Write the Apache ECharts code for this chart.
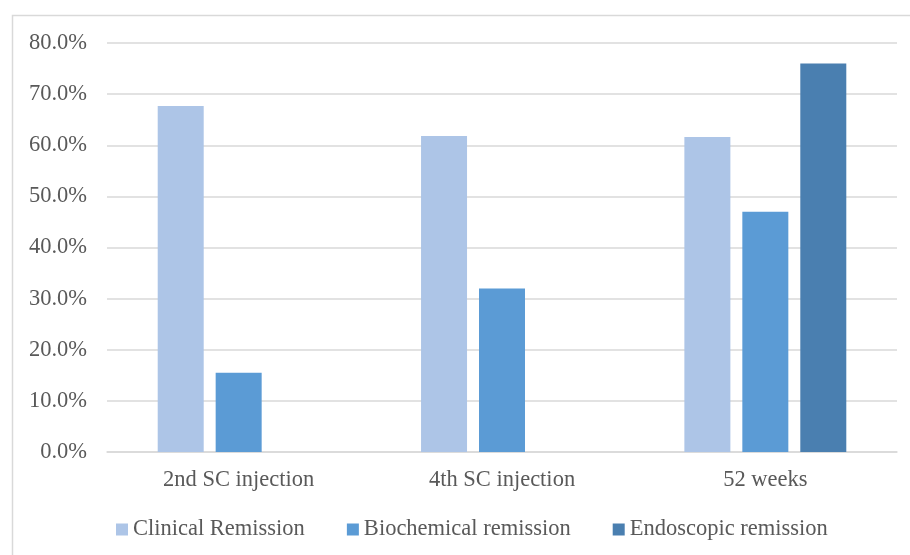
<!DOCTYPE html>
<html>
<head>
<meta charset="utf-8">
<script src="https://cdn.jsdelivr.net/npm/echarts@6/dist/echarts.min.js"></script>
<style>
  html, body { margin: 0; padding: 0; background: #fff; }
  #chart { width: 910px; height: 555px; }
</style>
</head>
<body>
<div id="chart"></div>
<script>
  // categories and values (percent)
  var categories = ['2nd SC injection', '4th SC injection', '52 weeks'];
  var clinical = [67.7, 61.8, 61.6];
  var biochemical = [15.5, 32.0, 47.0];
  var endoscopic = [null, null, 76.0];
  var seriesNames = ['Clinical Remission', 'Biochemical remission', 'Endoscopic remission'];

  var font = '"Liberation Serif", "Times New Roman", serif';
  var textColor = '#595959';
  var fontSize = 22.5;

  var chart = echarts.init(document.getElementById('chart'));
  chart.setOption({
    animation: false,
    textStyle: { fontFamily: font },
    // outer frame
    graphic: [{
      type: 'rect',
      shape: { x: 12.5, y: 15.5, width: 920, height: 560 },
      style: { fill: null, stroke: '#d9d9d9', lineWidth: 1.5 }
    }],
    grid: { left: 107, right: 13, top: 43, bottom: 103 },
    legend: {
      bottom: 9,
      left: 111,
      itemWidth: 12,
      itemHeight: 12,
      itemGap: 42,
      icon: 'rect',
      textStyle: { fontFamily: font, fontSize: fontSize, color: textColor },
      data: seriesNames
    },
    xAxis: {
      type: 'category',
      data: categories,
      axisLine: { lineStyle: { color: '#d9d9d9', width: 1.5 } },
      axisTick: { show: false },
      axisLabel: { fontFamily: font, fontSize: fontSize, color: textColor, margin: 17 }
    },
    yAxis: {
      type: 'value',
      min: 0,
      max: 80,
      interval: 10,
      axisLine: { show: false },
      axisTick: { show: false },
      splitLine: { lineStyle: { color: '#d9d9d9', width: 1.5 } },
      axisLabel: {
        fontFamily: font, fontSize: fontSize, color: textColor, margin: 20,
        formatter: function (v) { return v.toFixed(1) + '%'; }
      }
    },
    series: [
      { name: seriesNames[0], type: 'bar', data: clinical, barWidth: 46, barGap: '26%', itemStyle: { color: '#adc5e7' } },
      { name: seriesNames[1], type: 'bar', data: biochemical, barWidth: 46, barGap: '26%', itemStyle: { color: '#5b9bd5' } },
      { name: seriesNames[2], type: 'bar', data: endoscopic, barWidth: 46, barGap: '26%', itemStyle: { color: '#4a7fb0' } }
    ]
  });
</script>
</body>
</html>
